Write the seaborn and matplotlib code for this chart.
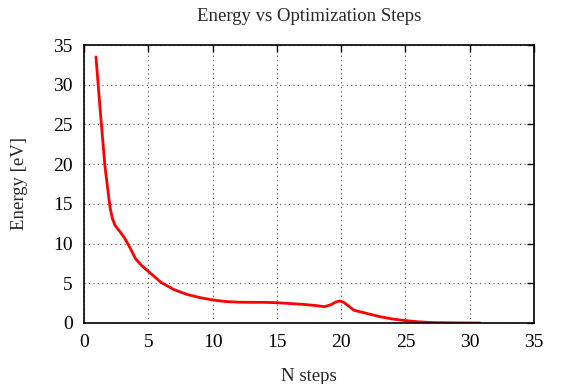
import matplotlib
matplotlib.use("Agg")
import matplotlib.pyplot as plt
import seaborn as sns
import pandas as pd

# values
steps = [0.93, 1.24, 1.63, 2.02, 2.2, 2.41, 2.8, 3.19, 3.6, 4.0, 4.5, 5.0, 5.5,
         6.0, 7.0, 8.0, 9.0, 10.0, 11.0, 12.0, 13.0, 14.0, 15.0, 16.0, 17.0,
         18.0, 18.7, 19.2, 19.6, 19.9, 20.2, 20.6, 21.0, 22.0, 23.0, 24.0,
         25.0, 26.0, 27.0, 28.0, 29.0, 30.0, 30.8]
energy = [33.5, 27.2, 19.7, 14.6, 13.2, 12.3, 11.5, 10.6, 9.4, 8.1, 7.2, 6.5,
          5.8, 5.1, 4.2, 3.6, 3.2, 2.9, 2.7, 2.62, 2.6, 2.6, 2.55, 2.45, 2.35,
          2.2, 2.05, 2.3, 2.65, 2.77, 2.6, 2.1, 1.6, 1.2, 0.8, 0.5, 0.3, 0.15,
          0.06, 0.03, 0.01, 0.0, 0.0]

df = pd.DataFrame({"N steps": steps, "Energy [eV]": energy})

sns.set_style("white")
plt.rcParams["font.family"] = ["Liberation Serif", "DejaVu Serif"]

fig = plt.figure(figsize=(5.66, 3.84), dpi=100)
ax = fig.add_axes([0.1484, 0.1589, 0.7951, 0.7239])

sns.lineplot(data=df, x="N steps", y="Energy [eV]", color="#ff0000",
             linewidth=2.0, ax=ax)

ax.set_xlim(0, 35)
ax.set_ylim(0, 35)
ax.set_xticks(range(0, 36, 5))
ax.set_yticks(range(0, 36, 5))
ax.grid(True, color="#555555", linestyle=(0, (1, 3)), linewidth=0.8)
ax.tick_params(direction="in", length=5, width=1, top=True, right=True,
               labelsize=14, colors="black", pad=8)
for s in ax.spines.values():
    s.set_color("black")
    s.set_linewidth(1.2)

ax.set_title("Energy vs Optimization Steps", fontsize=13.5, pad=17)
ax.set_xlabel("N steps", fontsize=13.5, labelpad=12)
ax.set_ylabel("Energy [eV]", fontsize=13.5, labelpad=18)

fig.savefig("out.png", dpi=100)
